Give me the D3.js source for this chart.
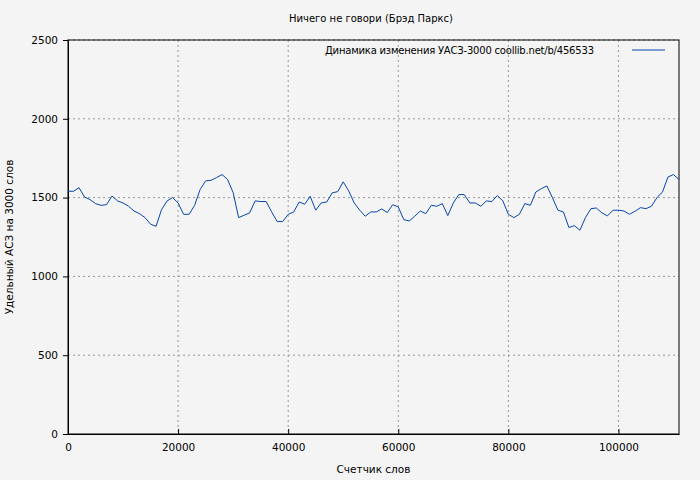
<!DOCTYPE html>
<html><head><meta charset="utf-8">
<script src="https://cdn.jsdelivr.net/npm/d3@7"></script>
<style>body{margin:0;background:#f4f4f4;font-family:"DejaVu Sans",sans-serif}</style>
</head><body><div id="chart"></div>
<script>
// Values per 1000 words
const values = [1540,1540,1563,1504,1487,1462,1451,1455,1510,1479,
  1466,1445,1415,1398,1373,1331,1318,1424,1479,1500,
  1466,1394,1394,1451,1551,1606,1610,1627,1646,1614,
  1532,1373,1388,1403,1479,1475,1475,1409,1348,1348,
  1394,1409,1472,1458,1508,1420,1466,1472,1530,1538,
  1600,1542,1466,1420,1382,1409,1409,
  1428,1405,1455,1441,1360,1352,1382,1415,1398,1451,1445,1462,1386,1466,
  1519,1519,1466,1466,1445,1479,1475,1513,1479,1394,1373,1394,1462,1451,
  1536,1557,1574,1500,1420,1409,1310,1322,1293,1373,1430,1434,1403,1384,
  1420,1420,1415,1394,1413,1436,1430,1445,1500,1536,1631,1646,1614];
const words = values.map((v, i) => i * 1000);
const xTicks = [0, 20000, 40000, 60000, 80000, 100000];
const yTicks = [0, 500, 1000, 1500, 2000, 2500];

const W = 700, H = 480;
const margin = { top: 40, right: 21, bottom: 46, left: 68 },
    width = W - margin.left - margin.right,
    height = H - margin.top - margin.bottom;

const svg = d3.select("#chart").append("svg").attr("width", W).attr("height", H)
    .style("font-family", "DejaVu Sans, sans-serif");
const g = svg.append("g").attr("transform", `translate(${margin.left},${margin.top})`);

const x = d3.scaleLinear().domain([0, 111000]).range([0, width]);
const y = d3.scaleLinear().domain([0, 2500]).range([height, 0]);

// grid
g.selectAll(".vg").data(xTicks.slice(1)).enter().append("line")
    .attr("x1", d => x(d)).attr("x2", d => x(d)).attr("y1", 0).attr("y2", height)
    .attr("stroke", "#999").attr("stroke-dasharray", "2,3");
g.selectAll(".hg").data(yTicks.slice(1)).enter().append("line")
    .attr("x1", 0).attr("x2", width).attr("y1", d => y(d)).attr("y2", d => y(d))
    .attr("stroke", "#999").attr("stroke-dasharray", "2,3");

// axes
const xa = g.append("g").attr("transform", `translate(0,${height})`)
    .call(d3.axisBottom(x).tickValues(xTicks).tickFormat(d3.format("d")).tickSizeInner(-5).tickSizeOuter(0).tickPadding(10));
const ya = g.append("g")
    .call(d3.axisLeft(y).tickValues(yTicks).tickFormat(d3.format("d")).tickSizeInner(5).tickSizeOuter(0).tickPadding(5));
[xa, ya].forEach(a => {
    a.selectAll("text").attr("font-size", 10.5).attr("fill", "#000").attr("font-family", "DejaVu Sans, sans-serif");
    a.select(".domain").attr("stroke", "#000");
});
g.append("rect").attr("width", width).attr("height", height).attr("fill", "none").attr("stroke", "#000");

// line
g.append("path").datum(values)
    .attr("fill", "none").attr("stroke", "#0645ad").attr("stroke-width", 1)
    .attr("d", d3.line().x((d, i) => x(words[i])).y(d => y(d)));

// legend
g.append("text").attr("x", width - 85).attr("y", 14).attr("text-anchor", "end")
    .attr("font-size", 10).attr("textLength", 269).text("Динамика изменения УАСЗ-3000  coollib.net/b/456533");
g.append("line").attr("x1", width - 47).attr("x2", width - 14).attr("y1", 10).attr("y2", 10)
    .attr("stroke", "#0645ad");

// titles
svg.append("text").attr("x", 371).attr("y", 22).attr("text-anchor", "middle")
    .attr("font-size", 10).text("Ничего не говори (Брэд Паркс)");
svg.append("text").attr("x", margin.left + width / 2).attr("y", H - 7).attr("text-anchor", "middle")
    .attr("font-size", 10.5).text("Счетчик слов");
svg.append("text").attr("transform", `translate(13,${margin.top + height / 2}) rotate(-90)`)
    .attr("text-anchor", "middle").attr("font-size", 10.5).text("Удельный АСЗ на 3000 слов");
</script></body></html>
